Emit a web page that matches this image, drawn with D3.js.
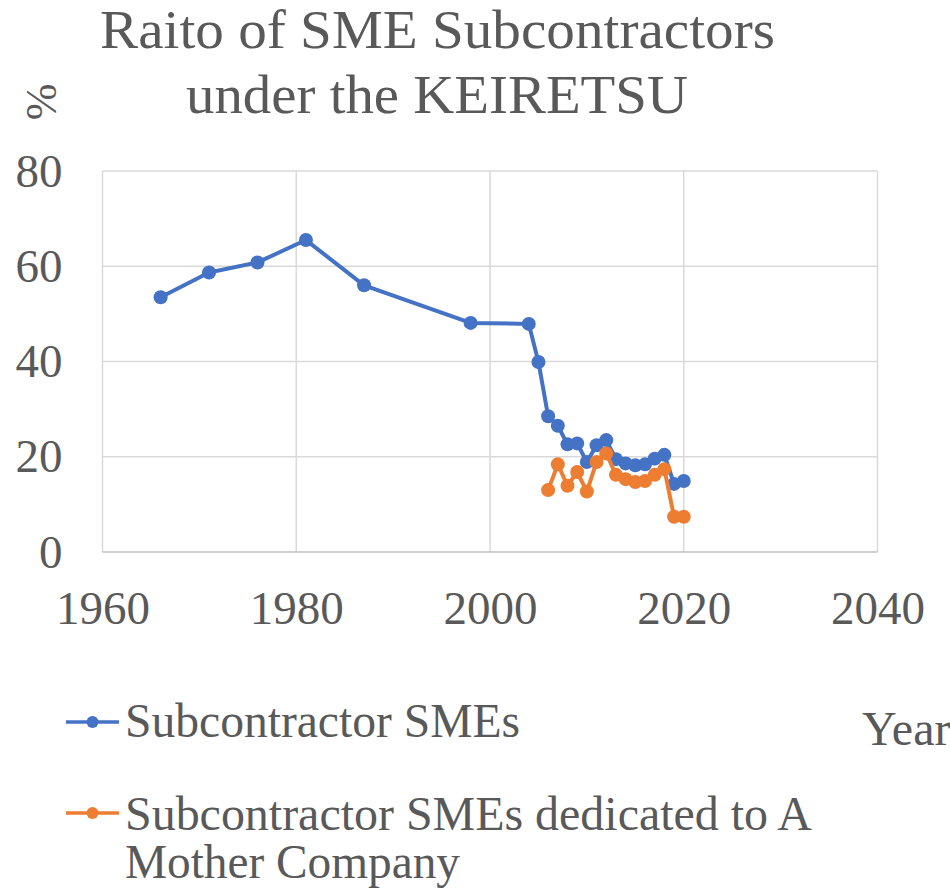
<!DOCTYPE html>
<html>
<head>
<meta charset="utf-8">
<script src="https://cdn.jsdelivr.net/npm/d3@7"></script>
<style>
  body { margin: 0; background: #fff; }
  svg text { font-family: "Liberation Serif", "Times New Roman", serif; fill: #595959; }
</style>
</head>
<body>
<svg id="chart" width="950" height="891"></svg>
<script>
const W = 950, H = 891
const serif = '"Liberation Serif", "Times New Roman", serif'

// series
const yearsAll = [1966, 1971, 1976, 1981, 1987, 1998, 2004, 2005, 2006, 2007, 2008, 2009,
    2010, 2011, 2012, 2013, 2014, 2015, 2016, 2017, 2018, 2019, 2020]
const smeAll = [53.5, 58.7, 60.8, 65.5, 56.0, 48.1, 47.9, 39.9, 28.5, 26.5, 22.6, 22.8,
    18.9, 22.4, 23.5, 19.5, 18.6, 18.2, 18.4, 19.6, 20.4, 14.3, 14.9]

const yearsDed = [2006, 2007, 2008, 2009, 2010, 2011, 2012, 2013, 2014, 2015, 2016, 2017,
    2018, 2019, 2020]
const smeDed = [13.0, 18.4, 13.9, 16.8, 12.7, 18.9, 20.7, 16.2, 15.3, 14.7, 14.9, 16.2,
    17.4, 7.4, 7.4]

const xTicks = [1960, 1980, 2000, 2020, 2040]
const yTicks = [0, 20, 40, 60, 80]

const seriesNames = ['Subcontractor SMEs', 'Subcontractor SMEs dedicated to A', 'Mother Company']
const colors = ['#4472C4', '#ED7D31']

const plot = { left: 102.5, right: 877.5, top: 171, bottom: 552 }

const x = d3.scaleLinear().domain([1960, 2040]).range([plot.left, plot.right])
const y = d3.scaleLinear().domain([0, 80]).range([plot.bottom, plot.top])

const svg = d3.select('#chart')

// title
svg.append('text')
    .attr('x', 100).attr('y', 48)
    .attr('font-size', 54)
    .attr('textLength', 675).attr('lengthAdjust', 'spacingAndGlyphs')
    .text('Raito of SME Subcontractors')
svg.append('text')
    .attr('x', 186).attr('y', 113)
    .attr('font-size', 54)
    .attr('textLength', 502).attr('lengthAdjust', 'spacingAndGlyphs')
    .text('under the KEIRETSU')

// % axis title
svg.append('text')
    .attr('transform', 'translate(56,102) rotate(-90)')
    .attr('text-anchor', 'middle')
    .attr('font-size', 44)
    .text('%')

// gridlines
const grid = svg.append('g').attr('class', 'grid')
grid.selectAll('line.v')
    .data(xTicks)
    .join('line')
    .attr('class', 'v')
    .attr('x1', d => x(d)).attr('x2', d => x(d))
    .attr('y1', plot.top).attr('y2', plot.bottom)
    .attr('stroke', '#d9d9d9').attr('stroke-width', 1.5)
grid.selectAll('line.h')
    .data(yTicks)
    .join('line')
    .attr('class', 'h')
    .attr('x1', plot.left).attr('x2', plot.right)
    .attr('y1', d => y(d)).attr('y2', d => y(d))
    .attr('stroke', d => d === 0 ? '#bfbfbf' : '#d9d9d9').attr('stroke-width', 1.5)

// axes (labels only)
const xAxis = svg.append('g')
    .attr('transform', `translate(0, ${plot.bottom})`)
    .call(d3.axisBottom(x).tickValues(xTicks).tickFormat(d3.format('d')).tickSize(0).tickPadding(72))
const yAxis = svg.append('g')
    .attr('transform', `translate(${plot.left}, 0)`)
    .call(d3.axisLeft(y).tickValues(yTicks).tickSize(0).tickPadding(40))

;[xAxis, yAxis].forEach(a => {
    a.attr('font-family', serif)
    a.select('.domain').remove()
    a.selectAll('text')
        .attr('font-family', serif)
        .attr('font-size', 47)
        .attr('fill', '#595959')
})
xAxis.selectAll('text').attr('dy', 0)

// series
const line = d3.line().x(d => x(d[0])).y(d => y(d[1]))
const series = [
    d3.zip(yearsAll, smeAll),
    d3.zip(yearsDed, smeDed)
]

series.forEach((pts, i) => {
    const g = svg.append('g')
    g.append('path')
        .datum(pts)
        .attr('d', line)
        .attr('fill', 'none')
        .attr('stroke', colors[i])
        .attr('stroke-width', 4)
        .attr('stroke-linejoin', 'round')
    g.selectAll('circle')
        .data(pts)
        .join('circle')
        .attr('cx', d => x(d[0]))
        .attr('cy', d => y(d[1]))
        .attr('r', 7)
        .attr('fill', colors[i])
})

// legend
const legend = svg.append('g')
const legendY = [722, 813]
legendY.forEach((ly, i) => {
    legend.append('line')
        .attr('x1', 66).attr('x2', 119)
        .attr('y1', ly).attr('y2', ly)
        .attr('stroke', colors[i]).attr('stroke-width', 3.5)
    legend.append('circle')
        .attr('cx', 92.5).attr('cy', ly).attr('r', 6)
        .attr('fill', colors[i])
})
legend.append('text').attr('x', 125).attr('y', 737).attr('font-size', 48)
    .attr('textLength', 395).attr('lengthAdjust', 'spacingAndGlyphs')
    .text(seriesNames[0])
legend.append('text').attr('x', 125).attr('y', 830).attr('font-size', 48)
    .attr('textLength', 687).attr('lengthAdjust', 'spacingAndGlyphs')
    .text(seriesNames[1])
legend.append('text').attr('x', 125).attr('y', 878).attr('font-size', 48)
    .attr('textLength', 335).attr('lengthAdjust', 'spacingAndGlyphs')
    .text(seriesNames[2])

// x axis title
svg.append('text')
    .attr('x', 862).attr('y', 745)
    .attr('font-size', 48)
    .text('Year')
</script>
</body>
</html>
